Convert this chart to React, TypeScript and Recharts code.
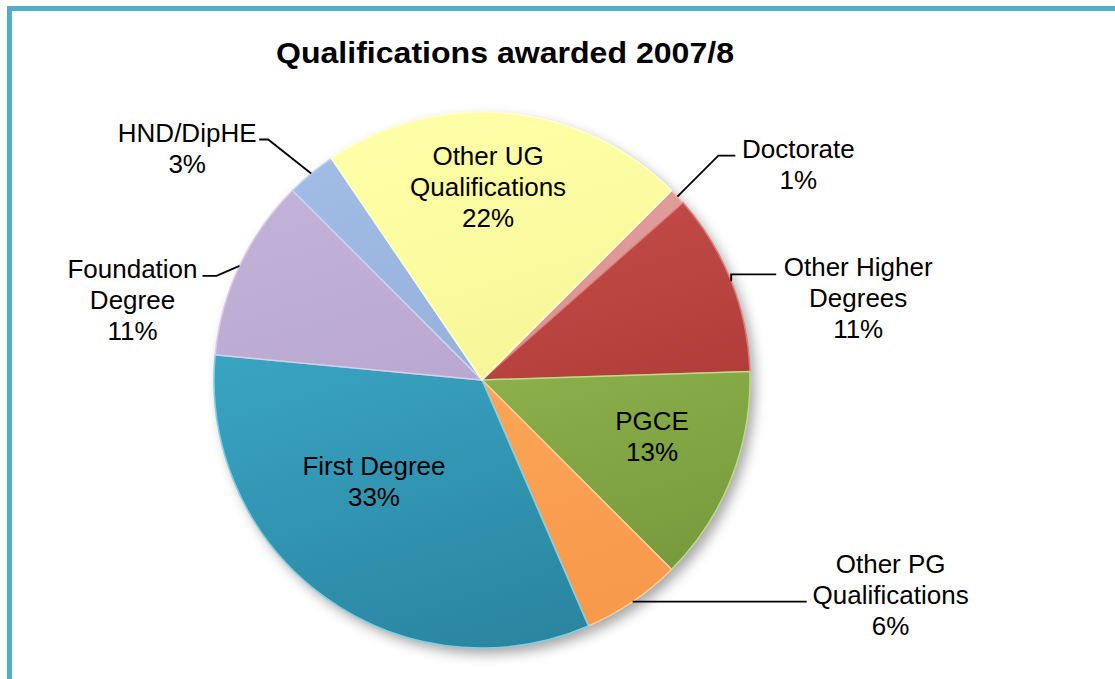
import React from 'react';
import { PieChart, Pie, Cell } from 'recharts';

// values, clockwise from the Doctorate slice
const categories = [
  'Doctorate',
  'Other Higher Degrees',
  'PGCE',
  'Other PG Qualifications',
  'First Degree',
  'Foundation Degree',
  'HND/DipHE',
  'Other UG Qualifications',
];
const shares = [1, 11, 13, 6, 33, 11, 3, 22];

const chartTitle = 'Qualifications awarded 2007/8';

const data = categories.map((name, i) => ({ name, value: shares[i] }));

// styling
const topColors = ['#E8A6A4', '#CD5450', '#A3C95D', '#FFB264', '#40B4D4', '#C4B3D9', '#A2BEE6', '#FFFFA8'];
const bottomColors = ['#C98380', '#A02F2C', '#74963A', '#F7984A', '#2A849F', '#AF9CC6', '#86A3D2', '#EFEF8A'];
const edgeColors = ['#F2C4C3', '#DC7B78', '#BEDB86', '#FFCC98', '#7DD0E6', '#D9CDE8', '#C4D6F0', '#FFFFD0'];

const W = 1115;
const H = 679;
const CX = 482;
const CY = 380;
const R = 268;
const FONT = '"Liberation Sans", Arial, sans-serif';
const LH = 31;

type Spot =
  | { kind: 'in'; turn: number; k: number }
  | { kind: 'out'; ex: number; ey: number; run: number; tx: number; anchorLine: number };

// label placement, one per slice in data order
const spots: Spot[] = [
  { kind: 'out', ex: 41, ey: -41, run: 17, tx: 63, anchorLine: 0 },
  { kind: 'out', ex: 0, ey: -7, run: 45, tx: 82, anchorLine: 0 },
  { kind: 'in', turn: -3.1, k: 0.669 },
  { kind: 'out', ex: 0, ey: 0, run: 174, tx: 84, anchorLine: 1 },
  { kind: 'in', turn: 10.7, k: 0.554 },
  { kind: 'out', ex: -23, ey: 10, run: -14, tx: -70, anchorLine: 0 },
  { kind: 'out', ex: -43, ey: -34, run: -9, tx: -72, anchorLine: 0 },
  { kind: 'in', turn: -3.6, k: 0.72 },
];

const RAD = Math.PI / 180;

const wrap = (text: string, max = 12) => {
  const words = text.split(' ');
  const lines: string[] = [];
  let cur = '';
  words.forEach((w) => {
    const next = cur ? cur + ' ' + w : w;
    if (next.length > max && cur) {
      lines.push(cur);
      cur = w;
    } else {
      cur = next;
    }
  });
  if (cur) lines.push(cur);
  return lines;
};

const renderLabel = (props: any) => {
  const { cx, cy, midAngle, outerRadius, percent, name } = props;
  const idx = categories.indexOf(name);
  const spot = spots[idx];
  if (!spot) return null;
  const lines = [...wrap(name), `${Math.round(percent * 100)}%`];
  const pt = (r: number, a: number) => ({
    x: cx + r * Math.cos(a * RAD),
    y: cy - r * Math.sin(a * RAD),
  });

  if (spot.kind === 'in') {
    const c = pt(outerRadius * spot.k, midAngle - spot.turn);
    const first = c.y - ((lines.length - 1) / 2) * LH + 9;
    return (
      <text key={name} textAnchor="middle" fontFamily={FONT} fontSize={26} fill="#000">
        {lines.map((l, i) => (
          <tspan key={i} x={c.x} y={first + i * LH}>{l}</tspan>
        ))}
      </text>
    );
  }

  const arc = pt(outerRadius, midAngle);
  const elbow = { x: arc.x + spot.ex, y: arc.y + spot.ey };
  const end = { x: elbow.x + spot.run, y: elbow.y };
  const tx = end.x + spot.tx;
  return (
    <g key={name}>
      <polyline
        points={`${arc.x},${arc.y} ${elbow.x},${elbow.y} ${end.x},${end.y}`}
        fill="none"
        stroke="#000"
        strokeWidth={1.8}
      />
      <text textAnchor="middle" fontFamily={FONT} fontSize={26} fill="#000">
        {lines.map((l, i) => (
          <tspan key={i} x={tx} y={end.y + 2 + (i - spot.anchorLine) * LH}>{l}</tspan>
        ))}
      </text>
    </g>
  );
};

export default function App() {
  return (
    <div style={{ position: 'fixed', left: 0, top: 0, width: W, height: H, overflow: 'hidden', background: '#fff' }}>
      <style>{`.pie-shadow { filter: url(#pieBlur); }`}</style>
      <div
        style={{
          position: 'absolute',
          left: 7,
          top: 6,
          width: 1300,
          height: 900,
          border: '5px solid #4FAFC9',
          boxSizing: 'border-box',
        }}
      />
      <div style={{ position: 'absolute', left: 0, top: 0 }}>
        <PieChart width={W} height={H} margin={{ top: 0, right: 0, bottom: 0, left: 0 }}>
          <defs>
            <filter id="pieBlur" x="-10%" y="-10%" width="120%" height="120%">
              <feGaussianBlur stdDeviation="4" />
            </filter>
            {categories.map((c, i) => (
              <linearGradient
                key={c}
                id={`slice-${i}`}
                gradientUnits="userSpaceOnUse"
                x1={CX - R * 0.3}
                y1={CY - R}
                x2={CX + R * 0.3}
                y2={CY + R}
              >
                <stop offset="0%" stopColor={topColors[i]} />
                <stop offset="100%" stopColor={bottomColors[i]} />
              </linearGradient>
            ))}
          </defs>
          <text
            x={505}
            y={63}
            textAnchor="middle"
            fontFamily={FONT}
            fontWeight="bold"
            fontSize={30}
            textLength={458}
            lengthAdjust="spacingAndGlyphs"
            fill="#000"
          >
            {chartTitle}
          </text>
          <Pie
            className="pie-shadow"
            data={data}
            dataKey="value"
            nameKey="name"
            cx={CX + 5}
            cy={CY + 6}
            outerRadius={R}
            startAngle={45}
            endAngle={-315}
            stroke="none"
            fill="#000"
            fillOpacity={0.35}
            isAnimationActive={false}
            label={false}
            labelLine={false}
          />
          <Pie
            data={data}
            dataKey="value"
            nameKey="name"
            cx={CX}
            cy={CY}
            outerRadius={R}
            startAngle={45}
            endAngle={-315}
            isAnimationActive={false}
            label={renderLabel}
            labelLine={false}
          >
            {data.map((d, i) => (
              <Cell key={d.name} fill={`url(#slice-${i})`} stroke={edgeColors[i]} strokeWidth={1.5} />
            ))}
          </Pie>
        </PieChart>
      </div>
    </div>
  );
}
